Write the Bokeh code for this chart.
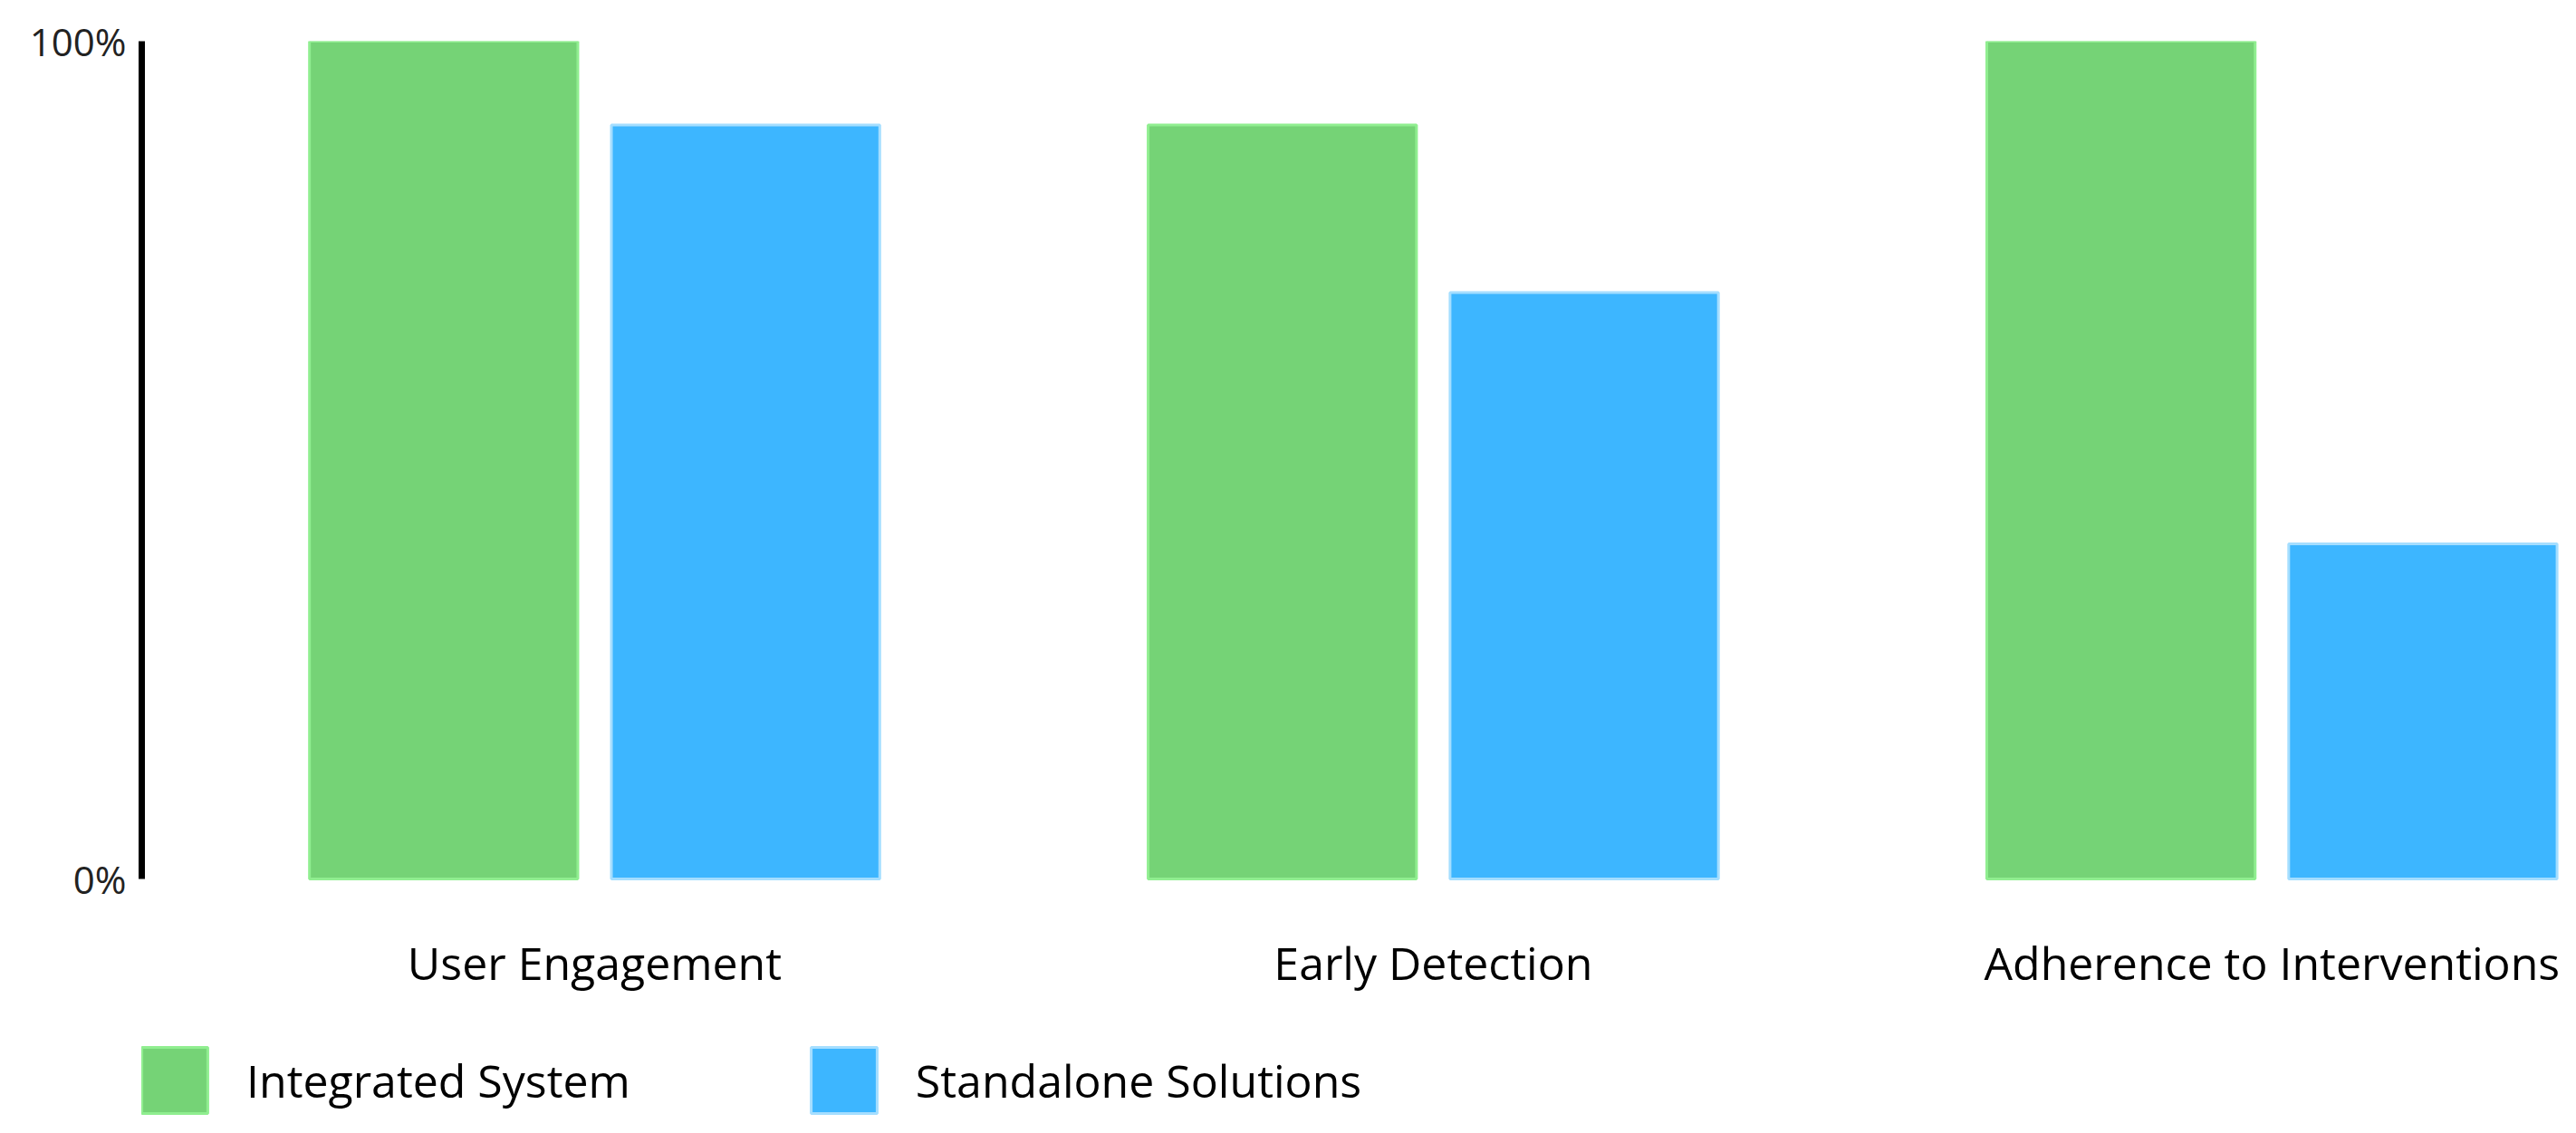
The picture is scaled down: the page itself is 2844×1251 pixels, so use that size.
from bokeh.plotting import figure
from bokeh.models import (ColumnDataSource, Range1d, FixedTicker, Legend, LegendItem)
from bokeh.transform import dodge
from bokeh.embed import file_html
from bokeh.resources import INLINE

# ---- data ----
categories = ["User Engagement", "Early Detection", "Adherence to Interventions"]
integrated = [100, 90, 100]
standalone = [90, 70, 40]
series_names = ["Integrated System", "Standalone Solutions"]
y_ticks = [0, 100]
y_tick_labels = ["0%", "100%"]

FONT = "Open Sans"
GREEN_FILL, GREEN_LINE = "#75D376", "#90EE90"
BLUE_FILL, BLUE_LINE = "#3DB6FF", "#A5DEFF"

# layout (pixels)
W, H = 2844, 1251
TOP, BASE = 45, 970          # y of 100% and 0% lines
y_start = -100 * (H - BASE) / (BASE - TOP)   # leaves room below the bars for labels + legend

src = ColumnDataSource(dict(
    x=list(range(len(categories))),
    integrated=integrated,
    standalone=standalone,
))

p = figure(width=W, height=H, output_backend="svg", toolbar_location=None,
           x_range=Range1d(-0.54, 2.348), y_range=Range1d(y_start, 100),
           min_border_left=156, min_border_right=14, min_border_top=TOP,
           min_border_bottom=0)
p.outline_line_color = None
p.xgrid.visible = False
p.ygrid.visible = False

bw = 0.32
r1 = p.vbar(x=dodge("x", -0.18, range=p.x_range), top="integrated", width=bw, source=src,
            fill_color=GREEN_FILL, line_color=GREEN_LINE, line_width=3)
r2 = p.vbar(x=dodge("x", 0.18, range=p.x_range), top="standalone", width=bw, source=src,
            fill_color=BLUE_FILL, line_color=BLUE_LINE, line_width=3)

# x axis: category labels only, drawn at the 0% line
p.xaxis.fixed_location = 0
p.xaxis.ticker = FixedTicker(ticks=list(range(len(categories))))
p.xaxis.major_label_overrides = {i: c for i, c in enumerate(categories)}
p.xaxis.axis_line_color = None
p.xaxis.major_tick_line_color = None
p.xaxis.minor_tick_line_color = None
p.xaxis.major_tick_out = 0
p.xaxis.major_label_text_font = FONT
p.xaxis.major_label_text_font_size = "50px"
p.xaxis.major_label_text_color = "#000000"
p.xaxis.major_label_standoff = 58

# y axis
p.yaxis.bounds = (0, 100)
p.yaxis.ticker = FixedTicker(ticks=y_ticks)
p.yaxis.major_label_overrides = {t: l for t, l in zip(y_ticks, y_tick_labels)}
p.yaxis.axis_line_color = "#000000"
p.yaxis.axis_line_width = 7
p.yaxis.major_tick_line_color = None
p.yaxis.minor_tick_line_color = None
p.yaxis.major_tick_out = 0
p.yaxis.major_label_text_font = FONT
p.yaxis.major_label_text_font_size = "42px"
p.yaxis.major_label_text_color = "#222222"
p.yaxis.major_label_standoff = 17

# legend below the category labels
lg = Legend(items=[LegendItem(label=n, renderers=[r]) for n, r in zip(series_names, [r1, r2])],
            location=(-9, 13), orientation="horizontal",
            glyph_width=91, glyph_height=91, label_standoff=34, spacing=190,
            label_text_font=FONT, label_text_font_size="50px",
            label_text_color="#000000", padding=0, margin=0,
            border_line_color=None, background_fill_alpha=0)
p.add_layout(lg, "center")

open("out.html", "w").write(file_html(p, INLINE))
